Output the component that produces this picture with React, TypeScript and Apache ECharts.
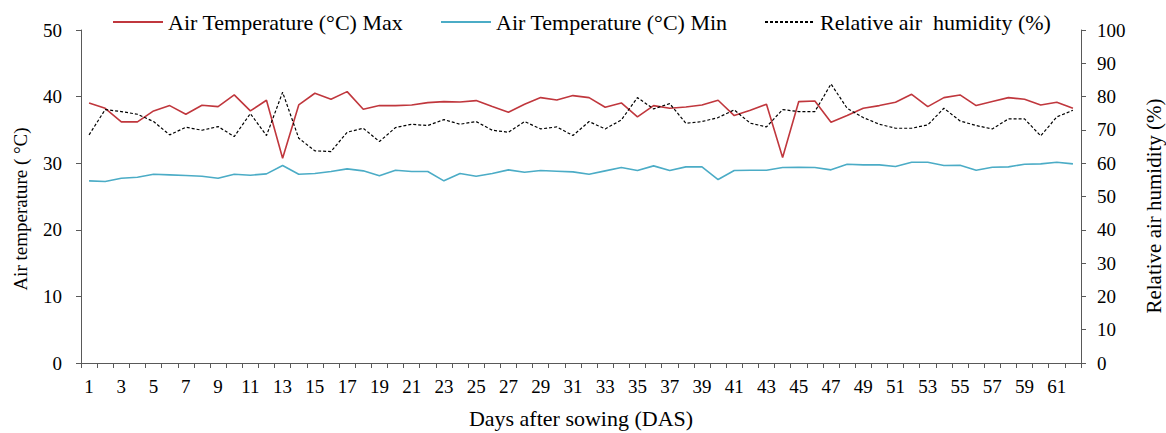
import React, { useEffect, useRef } from "react";
import * as echarts from "echarts";

const days: string[] = [
  "1","2","3","4","5","6","7","8","9","10",
  "11","12","13","14","15","16","17","18","19","20",
  "21","22","23","24","25","26","27","28","29","30",
  "31","32","33","34","35","36","37","38","39","40",
  "41","42","43","44","45","46","47","48","49","50",
  "51","52","53","54","55","56","57","58","59","60",
  "61","62",
];

const tempMax: number[] = [
  39.05, 38.24, 36.2, 36.2, 37.85, 38.65, 37.35, 38.7, 38.5, 40.25,
  37.85, 39.45, 30.75, 38.75, 40.5, 39.6, 40.75, 38.1, 38.65, 38.65,
  38.75, 39.1, 39.25, 39.2, 39.4, 38.5, 37.65, 38.85, 39.85, 39.5,
  40.15, 39.85, 38.4, 39.05, 36.95, 38.65, 38.25, 38.45, 38.75, 39.45,
  37.15, 37.95, 38.85, 30.85, 39.25, 39.35, 36.15, 37.15, 38.25, 38.65,
  39.15, 40.35, 38.5, 39.85, 40.25, 38.65, 39.25, 39.85, 39.6, 38.75,
  39.15, 38.25,
];

const tempMin: number[] = [
  27.35, 27.25, 27.75, 27.9, 28.35, 28.25, 28.15, 28.05, 27.75, 28.35,
  28.2, 28.4, 29.65, 28.35, 28.45, 28.75, 29.15, 28.85, 28.1, 28.95,
  28.75, 28.75, 27.35, 28.45, 28.05, 28.45, 29.0, 28.65, 28.9, 28.8,
  28.7, 28.35, 28.85, 29.35, 28.9, 29.6, 28.9, 29.45, 29.45, 27.55,
  28.9, 28.95, 28.95, 29.35, 29.4, 29.35, 29.0, 29.85, 29.75, 29.75,
  29.5, 30.15, 30.15, 29.65, 29.7, 28.95, 29.4, 29.45, 29.85, 29.9,
  30.15, 29.9,
];

const humidity: number[] = [
  68.5, 76.1, 75.5, 74.7, 72.5, 68.5, 70.8, 69.9, 71.0, 68.0,
  74.9, 68.3, 81.3, 67.5, 63.7, 63.5, 69.3, 70.5, 66.5, 70.7,
  71.7, 71.3, 73.1, 71.7, 72.5, 69.9, 69.3, 72.5, 70.3, 70.9,
  68.3, 72.5, 70.3, 73.0, 79.7, 76.3, 77.9, 72.0, 72.5, 73.7,
  76.0, 72.0, 70.9, 76.1, 75.5, 75.5, 83.8, 76.5, 73.7, 71.7,
  70.5, 70.5, 71.5, 76.5, 72.7, 71.3, 70.3, 73.3, 73.3, 68.2,
  73.9, 75.9,
];

const seriesNames: string[] = [
  "Air Temperature (°C) Max",
  "Air Temperature (°C) Min",
  "Relative air  humidity (%)",
];

const xAxisTitle = "Days after sowing (DAS)";
const leftAxisTitle = "Air temperature ( °C)";
const rightAxisTitle = "Relative air humidity (%)";

const FONT = "Liberation Serif";

export default function App() {
  const ref = useRef<HTMLDivElement>(null);

  useEffect(() => {
    if (!ref.current) return;
    const chart = echarts.init(ref.current, undefined, { renderer: "svg" });
    const tickText = { fontFamily: FONT, fontSize: 19, color: "#000" };
    const nameText = { fontFamily: FONT, fontSize: 22, color: "#000" };
    const axisLine = { show: true, lineStyle: { color: "#595959", width: 1 } };
    const legendBase = {
      top: 6,
      itemWidth: 50,
      itemHeight: 22,
      itemGap: 8,
      itemStyle: { opacity: 0 },
      textStyle: { fontFamily: FONT, fontSize: 22, color: "#000" },
    };
    chart.setOption({
      animation: false,
      backgroundColor: "#fff",
      textStyle: { fontFamily: FONT },
      legend: [
        { ...legendBase, left: 107, data: [seriesNames[0]] },
        { ...legendBase, left: 435, data: [seriesNames[1]] },
        { ...legendBase, left: 759, data: [seriesNames[2]] },
      ],
      graphic: [
        {
          type: "text",
          x: 20,
          y: 209,
          rotation: Math.PI / 2,
          style: {
            text: leftAxisTitle,
            fontFamily: FONT,
            fontSize: 19,
            fill: "#000",
            align: "center",
            verticalAlign: "middle",
          },
        },
        {
          type: "text",
          x: 1154,
          y: 206,
          rotation: Math.PI / 2,
          style: {
            text: rightAxisTitle,
            fontFamily: FONT,
            fontSize: 21,
            fill: "#000",
            align: "center",
            verticalAlign: "middle",
          },
        },
      ],
      grid: {
        left: 81,
        right: 85,
        top: 30,
        bottom: 70,
        containLabel: false,
        outerBoundsMode: "none",
      },
      xAxis: {
        type: "category",
        data: days,
        boundaryGap: true,
        name: xAxisTitle,
        nameLocation: "middle",
        nameGap: 44,
        nameTextStyle: nameText,
        axisLine,
        axisTick: { show: true, interval: 0, length: 5, inside: false, lineStyle: { color: "#595959" } },
        axisLabel: { ...tickText, interval: 1, margin: 14 },
        splitLine: { show: false },
      },
      yAxis: [
        {
          type: "value",
          min: 0,
          max: 50,
          interval: 10,
          position: "left",
          axisLine,
          axisTick: { show: true, length: 5, lineStyle: { color: "#595959" } },
          axisLabel: { ...tickText, margin: 19 },
          splitLine: { show: false },
        },
        {
          type: "value",
          min: 0,
          max: 100,
          interval: 10,
          position: "right",
          axisLine,
          axisTick: { show: true, length: 5, lineStyle: { color: "#595959" } },
          axisLabel: { ...tickText, margin: 16 },
          splitLine: { show: false },
        },
      ],
      series: [
        {
          name: seriesNames[0],
          type: "line",
          yAxisIndex: 0,
          data: tempMax,
          symbol: "none",
          lineStyle: { color: "#C0373D", width: 1.6 },
          itemStyle: { color: "#C0373D" },
        },
        {
          name: seriesNames[1],
          type: "line",
          yAxisIndex: 0,
          data: tempMin,
          symbol: "none",
          lineStyle: { color: "#4BACC6", width: 1.6 },
          itemStyle: { color: "#4BACC6" },
        },
        {
          name: seriesNames[2],
          type: "line",
          yAxisIndex: 1,
          data: humidity,
          symbol: "none",
          lineStyle: { color: "#000", width: 1.2, type: [3, 2] },
          itemStyle: { color: "#000" },
        },
      ],
    });
    return () => chart.dispose();
  }, []);

  return (
    <div
      ref={ref}
      style={{ position: "fixed", left: 0, top: 0, width: 1166, height: 433 }}
    />
  );
}
